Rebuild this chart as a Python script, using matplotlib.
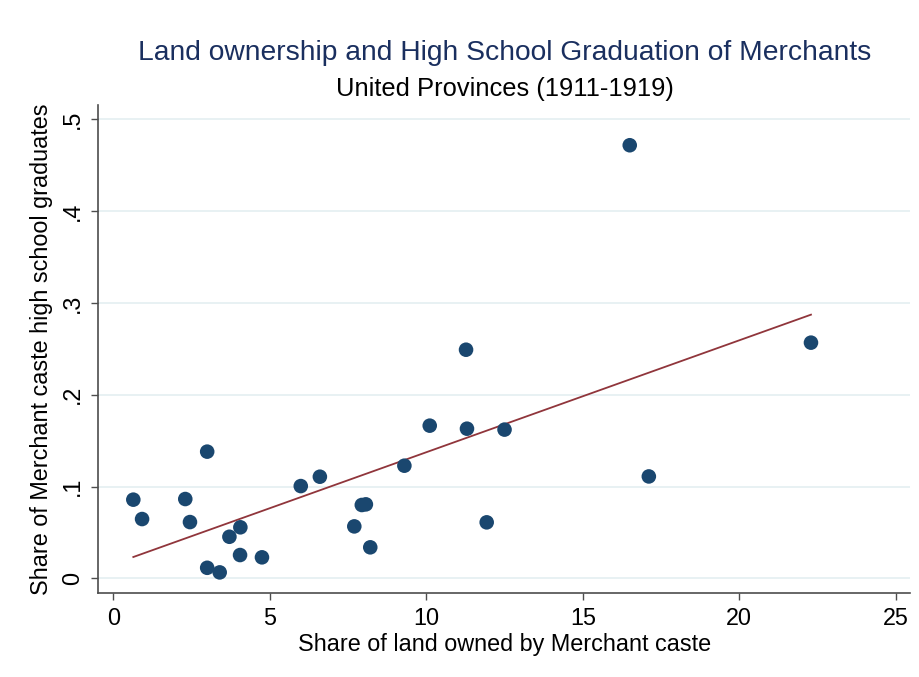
import numpy as np
import matplotlib.pyplot as plt

plt.rcParams['font.family'] = ['Liberation Sans', 'DejaVu Sans']

# district-level shares: land owned by Merchant caste (%) vs. share of HS graduates
land_share = [0.64, 0.92, 2.30, 2.45, 3.00, 3.00, 3.40, 3.71, 4.06, 4.05, 4.75,
              5.99, 6.60, 7.70, 7.94, 8.07, 8.21, 9.30, 10.11, 11.27, 11.30,
              11.93, 12.50, 16.50, 17.11, 22.29]
grad_share = [0.0857, 0.0646, 0.0864, 0.0613, 0.138, 0.0115, 0.0065, 0.0453,
              0.0556, 0.0254, 0.0229, 0.1005, 0.1107, 0.0566, 0.0799, 0.0806,
              0.0338, 0.1227, 0.1663, 0.249, 0.163, 0.061, 0.162, 0.4717,
              0.111, 0.2567]

x_ticks = [0, 5, 10, 15, 20, 25]
y_ticks = [0, 0.1, 0.2, 0.3, 0.4, 0.5]
y_tick_labels = ['0', '.1', '.2', '.3', '.4', '.5']

navy = '#1a476f'
maroon = '#90353b'
axis_grey = '#4d4d4d'

x = np.array(land_share)
y = np.array(grad_share)

# linear fit, drawn over the observed range
b1, b0 = np.polyfit(x, y, 1)
xfit = np.array([x.min(), x.max()])

fig = plt.figure(figsize=(9.2, 6.77), dpi=100)
ax = fig.add_axes([0.1068, 0.1236, 0.8822, 0.7214])

for yt in y_ticks:
    ax.axhline(yt, color='#e8f1f3', lw=1.4, zorder=0)

ax.scatter(x, y, s=110, color=navy, edgecolors='none', zorder=3)
ax.plot(xfit, b0 + b1 * xfit, color=maroon, lw=1.3, zorder=2)

ax.set_xlim(-0.48, 25.45)
ax.set_ylim(-0.0163, 0.5156)
ax.set_xticks(x_ticks)
ax.set_yticks(y_ticks)
ax.set_yticklabels(y_tick_labels, rotation=90, va='center')

for side in ['top', 'right']:
    ax.spines[side].set_visible(False)
for side in ['left', 'bottom']:
    ax.spines[side].set_color(axis_grey)
    ax.spines[side].set_linewidth(1.2)
ax.tick_params(direction='out', length=5, width=1.0, color=axis_grey,
               labelsize=16.8, pad=5)

ax.set_xlabel('Share of land owned by Merchant caste', fontsize=16.8, labelpad=2)
ax.set_ylabel('Share of Merchant caste high school graduates', fontsize=16.8, labelpad=6)

fig.text(0.549, 0.921, 'Land ownership and High School Graduation of Merchants',
         ha='center', va='center', fontsize=20.3, color='#1a2f5f')
fig.text(0.549, 0.869, 'United Provinces (1911-1919)',
         ha='center', va='center', fontsize=18.4, color='black')

fig.savefig('out.png', dpi=100, facecolor='white')
